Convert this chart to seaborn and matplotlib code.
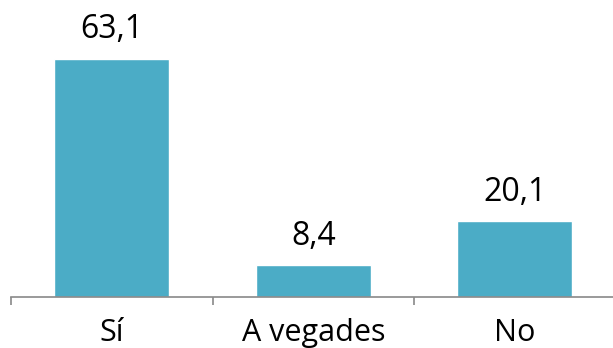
import matplotlib
matplotlib.use("Agg")
import matplotlib.pyplot as plt
import seaborn as sns
import pandas as pd

sns.set_theme(style="white")
plt.rcParams['font.family'] = ['Open Sans', 'DejaVu Sans']

categories = ['Sí', 'A vegades', 'No']
values = [63.1, 8.4, 20.1]

df = pd.DataFrame({'cat': categories, 'val': values})

fig = plt.figure(figsize=(6.13, 3.48), dpi=100)
ax = fig.add_axes([11 / 613, 51 / 348, 604.5 / 613, 297 / 348])

sns.barplot(data=df, x='cat', y='val', color='#4BACC6', saturation=1,
            width=0.57, ax=ax)

ax.set_xlim(-0.5, 2.5)
ax.set_ylim(0, 78.7)
ax.set_xlabel('')
ax.set_ylabel('')
ax.set_yticks([])

for s in ['top', 'right', 'left']:
    ax.spines[s].set_visible(False)
ax.spines['bottom'].set_color('#898989')
ax.spines['bottom'].set_linewidth(1.2)

ax.set_xticks([-0.5, 0.5, 1.5, 2.5], minor=True)
ax.tick_params(axis='x', which='minor', length=6, width=1.2, color='#898989',
               direction='out', bottom=True)
ax.tick_params(axis='x', which='major', length=0, pad=15, labelsize=22,
               labelcolor='black')

for c in ax.containers:
    ax.bar_label(c, labels=[f'{v:.1f}'.replace('.', ',') for v in values],
                 padding=9, fontsize=23, color='black')

fig.savefig('out.png', dpi=100)
